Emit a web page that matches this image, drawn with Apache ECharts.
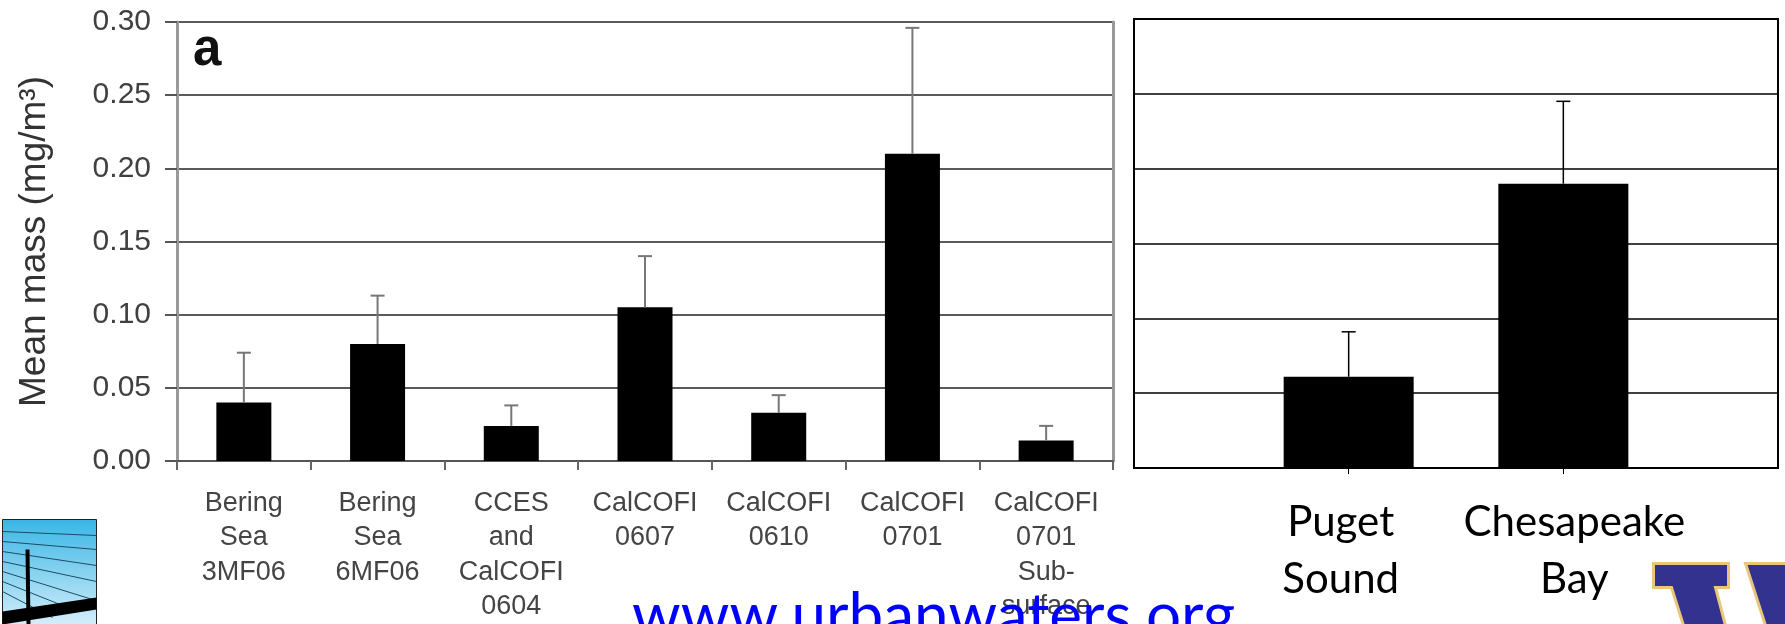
<!DOCTYPE html>
<html>
<head>
<meta charset="utf-8">
<script src="https://cdn.jsdelivr.net/npm/echarts@6/dist/echarts.min.js"></script>
<style>
  html, body { margin: 0; padding: 0; background: #fff; }
  #main { width: 1785px; height: 624px; }
</style>
</head>
<body>
<div id="main"></div>
<script>
// left panel (a): cruises
var categoriesA = ['Bering\nSea\n3MF06', 'Bering\nSea\n6MF06', 'CCES\nand\nCalCOFI\n0604', 'CalCOFI\n0607', 'CalCOFI\n0610', 'CalCOFI\n0701', 'CalCOFI\n0701\nSub-\nsurface'];
var meanA = [0.040, 0.080, 0.024, 0.105, 0.033, 0.210, 0.014];
var upperA = [0.074, 0.113, 0.038, 0.140, 0.045, 0.296, 0.024];
// right panel: estuaries (blank end slots)
var categoriesB = ['', 'Puget\nSound', 'Chesapeake\nBay', ''];
var meanB = [null, 0.061, 0.190, null];
var upperB = [null, 0.091, 0.245, null];
var yMax = 0.30, yStep = 0.05;

var myChart = echarts.init(document.getElementById('main'));

function errData(mean, upper) {
  var out = [];
  for (var i = 0; i < mean.length; i++) {
    if (mean[i] != null) out.push([i, mean[i], upper[i]]);
  }
  return out;
}

function errRender(color, width, cap) {
  return function (params, api) {
    var p0 = api.coord([api.value(0), api.value(1)]);
    var p1 = api.coord([api.value(0), api.value(2)]);
    var st = { stroke: color, lineWidth: width };
    return {
      type: 'group',
      children: [
        { type: 'line', shape: { x1: p0[0], y1: p0[1], x2: p1[0], y2: p1[1] }, style: st },
        { type: 'line', shape: { x1: p1[0] - cap, y1: p1[1], x2: p1[0] + cap, y2: p1[1] }, style: st }
      ]
    };
  };
}

var labB = { fontFamily: 'Lato', fontSize: 42, lineHeight: 57, color: '#000' };

var option = {
  backgroundColor: '#fff',
  animation: false,
  grid: [
    { left: 177, top: 22, width: 936, height: 442 },
    { left: 1134, top: 19, width: 644, height: 449, show: true, borderColor: '#000', borderWidth: 2, backgroundColor: 'transparent' }
  ],
  xAxis: [
    {
      type: 'category', gridIndex: 0, data: categoriesA,
      axisLine: { lineStyle: { color: '#555', width: 2 } },
      axisTick: { show: true, length: 9, lineStyle: { color: '#666', width: 2 } },
      axisLabel: { fontFamily: 'Liberation Sans', fontSize: 27, lineHeight: 34.5, color: '#444', margin: 25, interval: 0 }
    },
    {
      type: 'category', gridIndex: 1, data: categoriesB, boundaryGap: false,
      axisLine: { lineStyle: { color: '#000', width: 2 } },
      axisTick: { show: true, length: 6, interval: function (i) { return i === 1 || i === 2; }, lineStyle: { color: '#000', width: 1 } },
      axisLabel: {
        fontFamily: 'Lato', fontSize: 42, lineHeight: 57, color: '#000', margin: 26, interval: 0,
        formatter: function (v, i) {
          if (i === 1) return '{l|Puget}\n{l|Sound}';
          if (i === 2) return '{r|Chesapeake}\n{r|Bay}';
          return v;
        },
        rich: {
          l: Object.assign({ padding: [0, 16, 0, 0] }, labB),
          r: Object.assign({ padding: [0, 0, 0, 22] }, labB)
        }
      }
    }
  ],
  yAxis: [
    {
      type: 'value', gridIndex: 0, min: 0, max: yMax, interval: yStep,
      name: 'Mean mass (mg/m³)', nameLocation: 'middle', nameGap: 124,
      nameTextStyle: { fontFamily: 'Liberation Sans', fontSize: 37, color: '#333' },
      axisLine: { show: true, lineStyle: { color: '#999', width: 3 } },
      axisTick: { show: true, length: 12, lineStyle: { color: '#555', width: 2 } },
      axisLabel: { fontFamily: 'Liberation Sans', fontSize: 30, color: '#404040', margin: 26,
        formatter: function (v) { return v.toFixed(2); } },
      splitLine: { lineStyle: { color: '#5a5a5a', width: 2 } }
    },
    {
      type: 'value', gridIndex: 0, position: 'right', min: 0, max: yMax, interval: yStep,
      axisLine: { show: true, lineStyle: { color: '#999', width: 3 } },
      axisTick: { show: false }, axisLabel: { show: false }, splitLine: { show: false }
    },
    {
      type: 'value', gridIndex: 1, min: 0, max: yMax, interval: yStep,
      axisLine: { show: false }, axisTick: { show: false }, axisLabel: { show: false },
      splitLine: { lineStyle: { color: '#000', width: 1.5 } }
    }
  ],
  series: [
    { type: 'bar', xAxisIndex: 0, yAxisIndex: 0, data: meanA, barWidth: 55, itemStyle: { color: '#000' } },
    { type: 'custom', xAxisIndex: 0, yAxisIndex: 0, data: errData(meanA, upperA), renderItem: errRender('#777', 2, 7), z: 3 },
    { type: 'bar', xAxisIndex: 1, yAxisIndex: 2, data: meanB, barWidth: 130, itemStyle: { color: '#000' } },
    { type: 'custom', xAxisIndex: 1, yAxisIndex: 2, data: errData(meanB, upperB), renderItem: errRender('#000', 1.5, 7), z: 3 }
  ],
  graphic: [
    { type: 'text', left: 193, top: 25, style: { text: 'a', font: 'bold 51px "Liberation Sans"', fill: '#111' } },
    // urbanwaters link text, cut at the bottom edge
    { type: 'text', left: 632, top: 586, z: 100, style: { text: 'www.urbanwaters.org', font: '62px Lato', fill: '#0000ff' } },
    // bridge logo, bottom left
    { type: 'group', left: 0, top: 519, z: 50, children: [
      { type: 'rect', shape: { x: 0, y: 0, width: 94, height: 105 },
        style: { fill: new echarts.graphic.LinearGradient(0, 0, 0, 1, [{ offset: 0, color: '#38b6e6' }, { offset: 1, color: '#d4eef9' }]), stroke: '#222', lineWidth: 1 } },
      { type: 'line', shape: { x1: 0, y1: 12, x2: 94, y2: 16 }, style: { stroke: '#1a4d66', lineWidth: 1 } },
      { type: 'line', shape: { x1: 0, y1: 22, x2: 94, y2: 30 }, style: { stroke: '#1a4d66', lineWidth: 1 } },
      { type: 'line', shape: { x1: 0, y1: 32, x2: 94, y2: 46 }, style: { stroke: '#1a4d66', lineWidth: 1 } },
      { type: 'line', shape: { x1: 0, y1: 42, x2: 94, y2: 62 }, style: { stroke: '#1a4d66', lineWidth: 1 } },
      { type: 'line', shape: { x1: 0, y1: 52, x2: 90, y2: 80 }, style: { stroke: '#1a4d66', lineWidth: 1 } },
      { type: 'line', shape: { x1: 0, y1: 62, x2: 70, y2: 90 }, style: { stroke: '#1a4d66', lineWidth: 1 } },
      { type: 'line', shape: { x1: 0, y1: 72, x2: 50, y2: 98 }, style: { stroke: '#1a4d66', lineWidth: 1 } },
      { type: 'line', shape: { x1: 25, y1: 30, x2: 26, y2: 105 }, style: { stroke: '#000', lineWidth: 4 } },
      { type: 'polygon', shape: { points: [[0, 92], [94, 78], [94, 90], [0, 105]] }, style: { fill: '#000' } }
    ] },
    // UW "W" logo, bottom right
    { type: 'group', left: 1652, top: 562, z: 50, children: [
      { type: 'polygon', shape: { points: [[0, 0], [75, 0], [75, 24], [62, 24], [72, 62], [30, 62], [18, 24], [0, 24]] },
        style: { fill: '#33338f', stroke: '#e8c77a', lineWidth: 3 } },
      { type: 'polygon', shape: { points: [[92, 0], [133, 0], [133, 62], [112, 62]] },
        style: { fill: '#33338f', stroke: '#e8c77a', lineWidth: 3 } }
    ] }
  ]
};
myChart.setOption(option);
</script>
</body>
</html>
